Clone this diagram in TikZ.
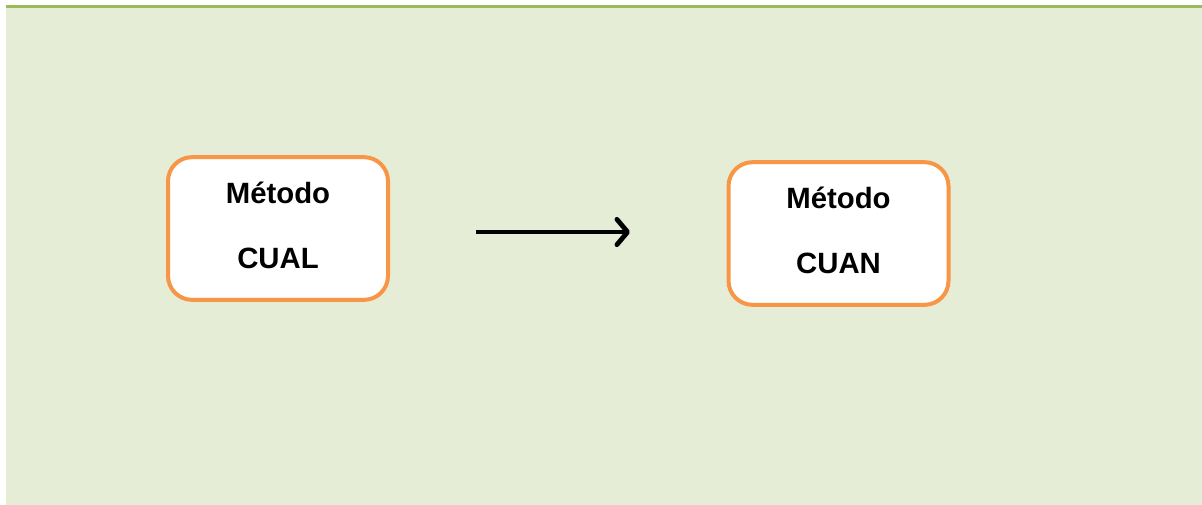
\documentclass[tikz,border=0pt]{standalone}
\usepackage{fontspec}
\setmainfont{Liberation Sans}
\usetikzlibrary{arrows.meta}
\definecolor{bgpale}{HTML}{E5EDD6}
\definecolor{olivebar}{HTML}{9BBB59}
\definecolor{boxorange}{HTML}{F79646}
\tikzset{
  methodbox/.style={draw=boxorange, line width=3pt, fill=white, rounded corners=18pt,
    minimum width=165pt, minimum height=107pt, inner sep=0pt},
  lbl/.style={font=\bfseries\fontsize{22}{26}\selectfont, anchor=base, inner sep=0pt},
  flow/.style={line width=3.6pt, -{Straight Barb[length=8pt, width=19pt, line width=3.6pt, round]}}
}
\begin{document}
\begin{tikzpicture}[x=0.75pt, y=-0.75pt]
\useasboundingbox (0,0) rectangle (1202,504);
\fill[white] (0,0) rectangle (1202,504);
\fill[bgpale] (6,8) rectangle (1203,506);
\fill[olivebar] (6,5) rectangle (1203,8);
\node[methodbox] (cual) at (278,228.5) {};
\node[methodbox] (cuan) at (838.5,233.5) {};
\node[lbl] (t1) at (278,203) {Método};
\node[lbl] (t2) at (278,268) {CUAL};
\node[lbl] (t3) at (838.5,208) {Método};
\node[lbl] (t4) at (838.5,273) {CUAN};
\coordinate (a1) at (476,232);
\coordinate (a2) at (630,232);
\draw[flow] (a1) -- (a2);
\end{tikzpicture}
\end{document}
